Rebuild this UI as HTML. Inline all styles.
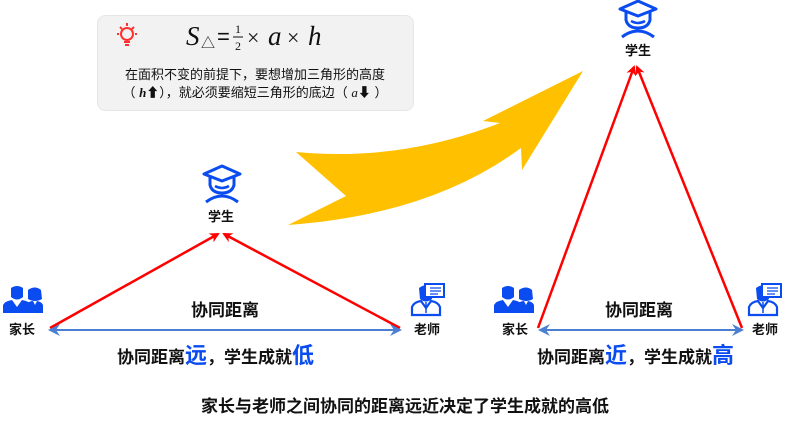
<!DOCTYPE html>
<html><head><meta charset="utf-8"><style>
html,body{margin:0;padding:0;background:#fff;width:788px;height:425px;overflow:hidden}
svg text{font-family:"Liberation Sans","Noto Sans CJK SC",sans-serif}
</style></head><body>
<svg width="788" height="425" viewBox="0 0 788 425" xmlns="http://www.w3.org/2000/svg">
<defs>
<marker id="ar" markerWidth="10" markerHeight="10" refX="8" refY="5" orient="auto" markerUnits="userSpaceOnUse"><path d="M0,0 L10,5 L0,10 L3,5 Z" fill="#ff0000"/></marker>
<marker id="ab" markerWidth="12" markerHeight="12" refX="10" refY="6" orient="auto-start-reverse" markerUnits="userSpaceOnUse"><path d="M0,0 L12,6 L0,12 L4,6 Z" fill="#4a7fd4"/></marker>
<g id="stu">
<path d="M0,9 L18,1 L36,9 L18,16 Z" fill="none" stroke="#0a4cf0" stroke-width="3" stroke-linejoin="round"/>
<path d="M6,12 L6,20 Q8,28 18,28 Q28,28 30,20 L30,12" fill="none" stroke="#0a4cf0" stroke-width="3"/>
<path d="M11,21 Q18,25 25,21" fill="none" stroke="#0a4cf0" stroke-width="2.5"/>
<path d="M2,37 Q18,25 34,37" fill="none" stroke="#0a4cf0" stroke-width="3"/>
</g>
<g id="par" fill="#0a4cf0">
<path d="M8,3 Q14,-1 20,3 L20,12 Q14,17 8,12 Z"/>
<path d="M0,28 L0,20 Q2,16 9,15 L14,22 L19,15 Q26,16 28,20 L28,28 Z"/>
<path d="M25,5 Q32,0 38,5 L39,14 Q32,18 25,14 Z"/>
<path d="M22,28 L22,20 Q26,16 30,16 L32,20 L34,16 Q39,17 40,20 L40,28 Z"/>
</g>
<g id="tea">
<path d="M8,5 Q16,-1 22,7 L21,16 Q15,21 9,16 Z" fill="#0a4cf0"/>
<path d="M1,32 L1,24 Q3,19 10,18 L15,25 L20,18 Q27,19 29,24 L29,32 Z" fill="none" stroke="#0a4cf0" stroke-width="2.2"/>
<rect x="14" y="1" width="19" height="13" fill="#fff" stroke="#0a4cf0" stroke-width="2"/>
<path d="M19,5 H30 M19,8 H30 M19,11 H27" stroke="#0a4cf0" stroke-width="1.2"/>
<path d="M15,19 L15,30" stroke="#0a4cf0" stroke-width="1.5"/>
</g>
</defs>

<!-- info box -->
<rect x="97.5" y="15.5" width="316" height="95" rx="8" fill="#f2f2f2" stroke="#e6e6e6"/>
<g stroke="#ff3030" stroke-width="2" fill="none">
<circle cx="127" cy="34" r="6"/>
<path d="M124,42 H130 M125,45 H129 M127,23 V26 M117,34 H119 M135,34 H137 M120,27 L122,29 M134,27 L132,29"/>
</g>
<text x="186" y="45" font-family="Liberation Serif,serif" font-style="italic" font-size="27" fill="#111" style="font-family:'Liberation Serif',serif">S</text>
<text x="201" y="48" font-size="14" fill="#111">△</text>
<text x="217" y="44" font-size="22" fill="#111">=</text>
<text x="235" y="33" font-size="12" fill="#111" style="font-family:'Liberation Serif',serif">1</text>
<line x1="233" y1="37" x2="243" y2="37" stroke="#111"/>
<text x="235" y="50" font-size="12" fill="#111" style="font-family:'Liberation Serif',serif">2</text>
<text x="247" y="45" font-size="22" fill="#111" style="font-family:'Liberation Serif',serif">×</text>
<text x="268" y="45" font-size="27" font-style="italic" fill="#111" style="font-family:'Liberation Serif',serif">a</text>
<text x="287" y="45" font-size="22" fill="#111" style="font-family:'Liberation Serif',serif">×</text>
<text x="308" y="45" font-size="27" font-style="italic" fill="#111" style="font-family:'Liberation Serif',serif">h</text>
<text x="255" y="79" font-size="13" fill="#111" text-anchor="middle">在面积不变的前提下，要想增加三角形的高度</text>
<text x="255" y="97" font-size="13" fill="#111" text-anchor="middle">（ <tspan font-style="italic" font-weight="bold" style="font-family:'Liberation Serif',serif">h</tspan>⬆），就必须要缩短三角形的底边（ <tspan font-style="italic" style="font-family:'Liberation Serif',serif">a</tspan>⬇ ）</text>

<!-- yellow arrow -->
<path d="M296,152 Q400,162 500,123 L483,121 L583,71 L522,170 L521,148 Q430,215 288,225 L346,196 Z" fill="#ffc000"/>

<!-- left triangle -->
<line x1="50" y1="328" x2="218" y2="234" stroke="#ff0000" stroke-width="2.5" marker-end="url(#ar)"/>
<line x1="400" y1="328" x2="224" y2="234" stroke="#ff0000" stroke-width="2.5" marker-end="url(#ar)"/>
<line x1="50" y1="330" x2="400" y2="330" stroke="#4a7fd4" stroke-width="2" marker-start="url(#ab)" marker-end="url(#ab)"/>
<use href="#stu" x="204" y="165"/>
<text x="221" y="221" font-size="13" font-weight="bold" text-anchor="middle" fill="#111">学生</text>
<use href="#par" x="3" y="285"/>
<text x="22" y="334" font-size="13" font-weight="bold" text-anchor="middle" fill="#111">家长</text>
<use href="#tea" x="411" y="283"/>
<text x="427" y="334" font-size="13" font-weight="bold" text-anchor="middle" fill="#111">老师</text>
<text x="225" y="316" font-size="17" font-weight="bold" text-anchor="middle" fill="#111">协同距离</text>
<text x="117" y="363" font-size="17" font-weight="bold" fill="#111">协同距离<tspan fill="#0a4cf0" font-size="22">远</tspan>，学生成就<tspan fill="#0a4cf0" font-size="22">低</tspan></text>

<!-- right triangle -->
<line x1="538" y1="328" x2="634" y2="67" stroke="#ff0000" stroke-width="2.5" marker-end="url(#ar)"/>
<line x1="742" y1="328" x2="637" y2="67" stroke="#ff0000" stroke-width="2.5" marker-end="url(#ar)"/>
<line x1="540" y1="330" x2="742" y2="330" stroke="#4a7fd4" stroke-width="2" marker-start="url(#ab)" marker-end="url(#ab)"/>
<use href="#stu" x="620" y="0"/>
<text x="638" y="55" font-size="13" font-weight="bold" text-anchor="middle" fill="#111">学生</text>
<use href="#par" x="494" y="285"/>
<text x="515" y="334" font-size="13" font-weight="bold" text-anchor="middle" fill="#111">家长</text>
<use href="#tea" x="748" y="283"/>
<text x="765" y="334" font-size="13" font-weight="bold" text-anchor="middle" fill="#111">老师</text>
<text x="639" y="316" font-size="17" font-weight="bold" text-anchor="middle" fill="#111">协同距离</text>
<text x="537" y="363" font-size="17" font-weight="bold" fill="#111">协同距离<tspan fill="#0a4cf0" font-size="22">近</tspan>，学生成就<tspan fill="#0a4cf0" font-size="22">高</tspan></text>

<text x="405" y="412" font-size="17" font-weight="bold" text-anchor="middle" fill="#111">家长与老师之间协同的距离远近决定了学生成就的高低</text>
</svg>
</body></html>
